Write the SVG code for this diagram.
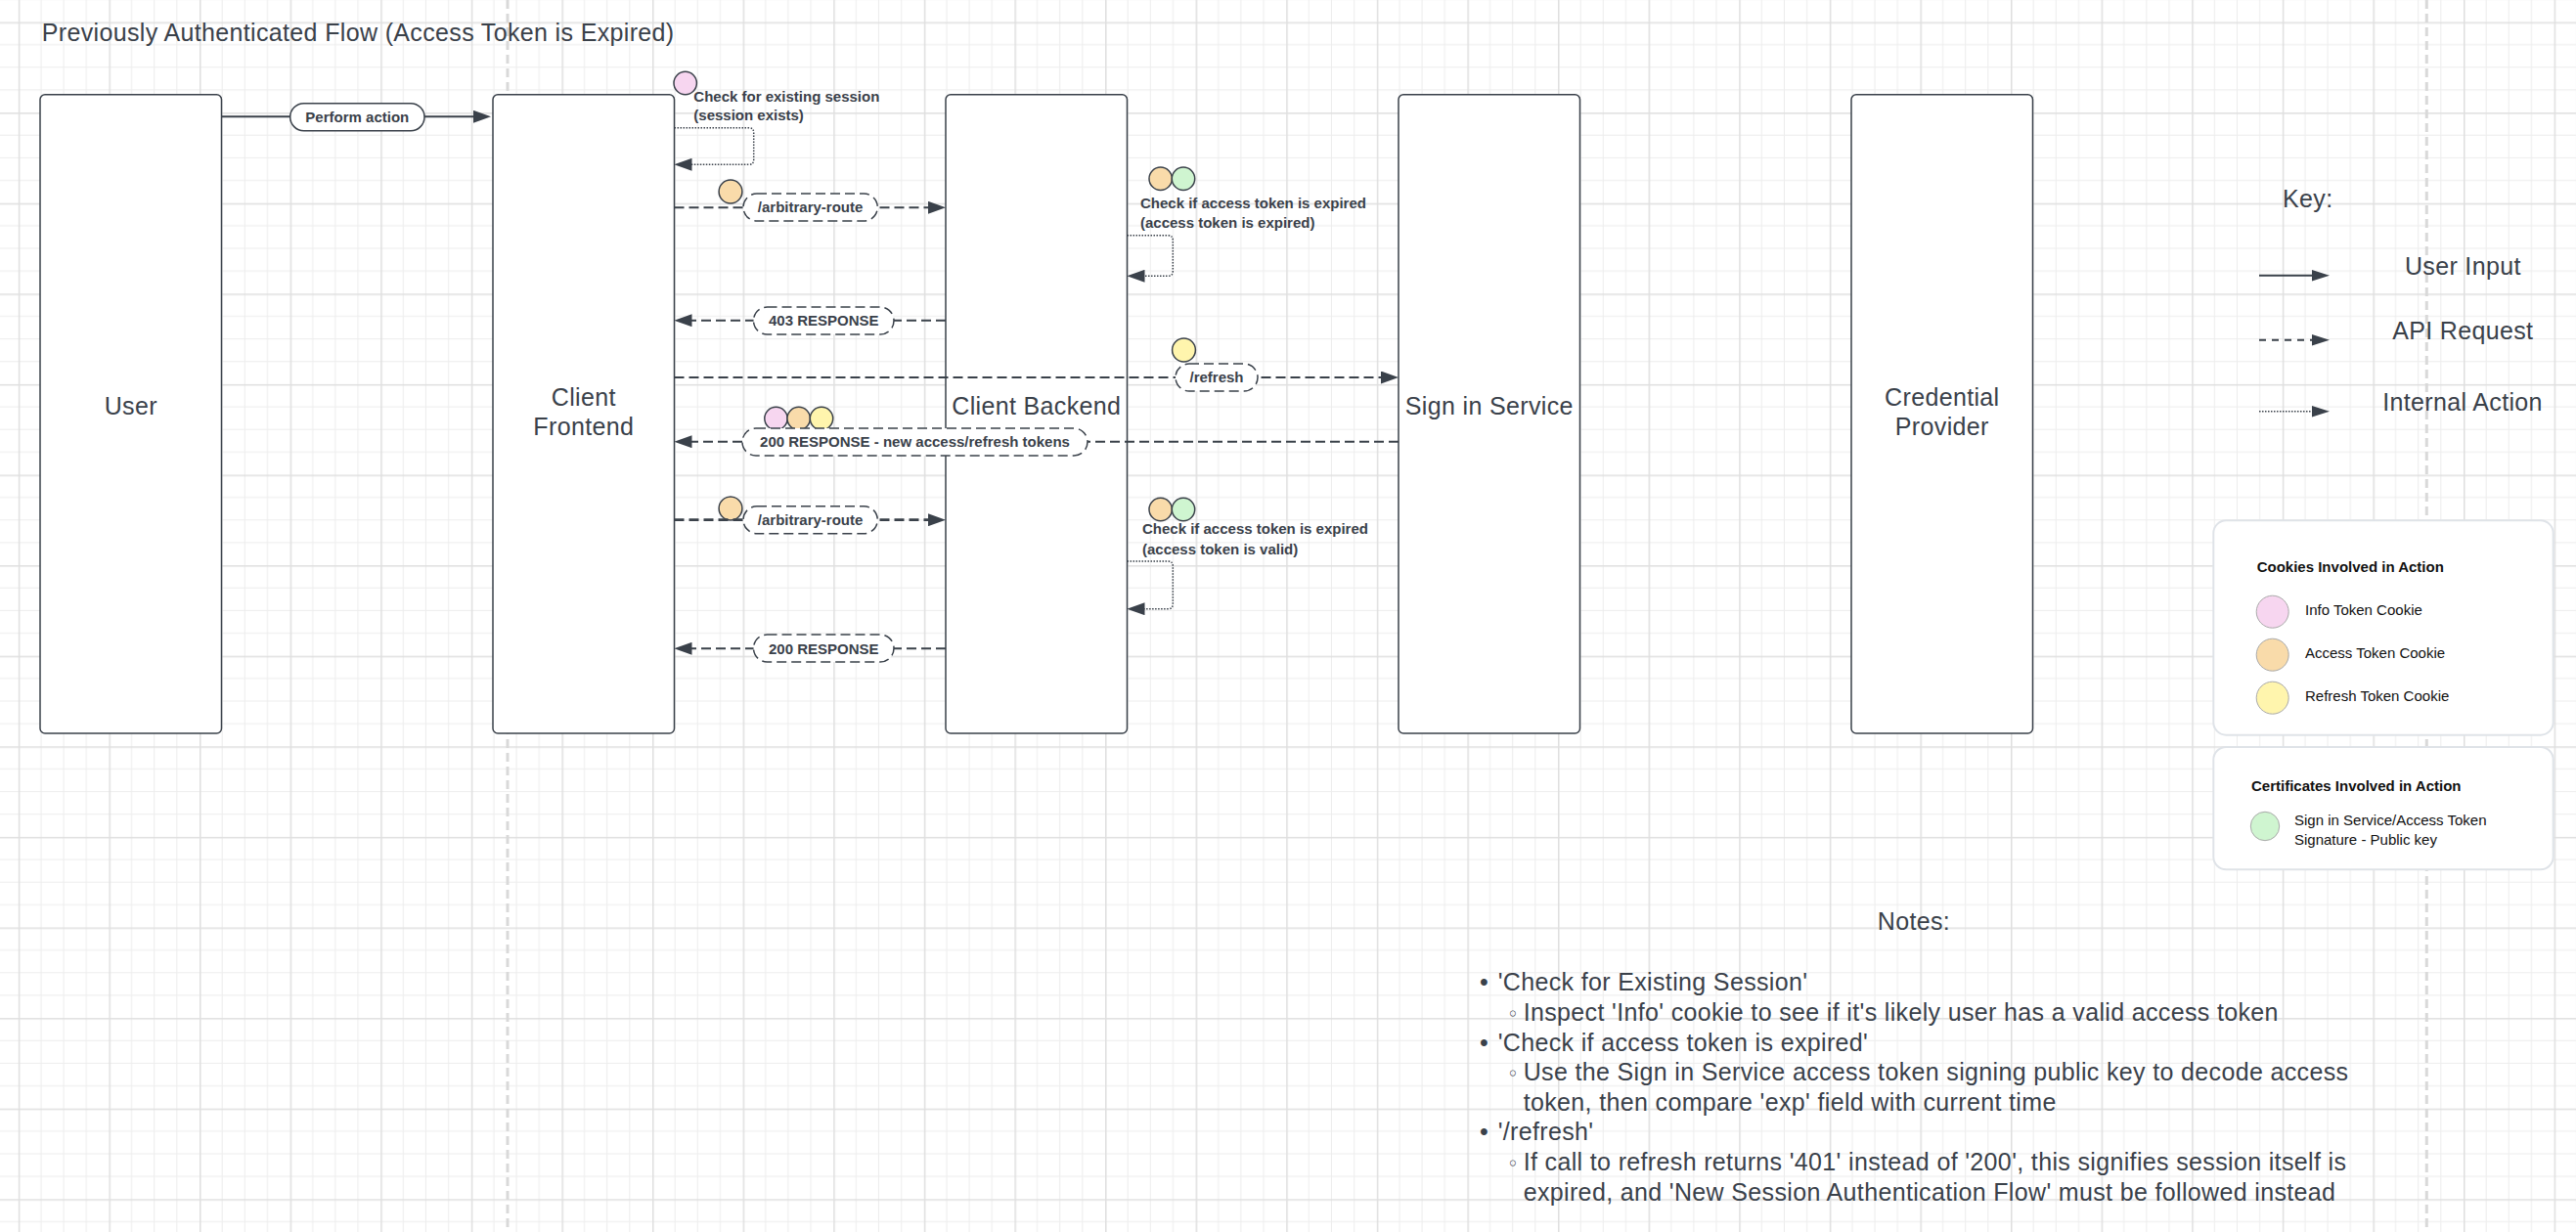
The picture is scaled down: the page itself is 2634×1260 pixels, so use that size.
<svg xmlns="http://www.w3.org/2000/svg" width="2634" height="1260" viewBox="0 0 2634 1260">
<defs>
<pattern id="grid" patternUnits="userSpaceOnUse" x="18.8" y="22.5" width="92.6" height="92.6">
<rect width="92.6" height="92.6" fill="#ffffff"/>
<path d="M23.15,0V92.6M46.3,0V92.6M69.45,0V92.6M0,23.15H92.6M0,46.3H92.6M0,69.45H92.6" stroke="#ededed" stroke-width="1"/>
<path d="M0.75,0V92.6M0,0.75H92.6" stroke="#dfdfdf" stroke-width="1.5"/>
</pattern>
<marker id="ah" markerUnits="userSpaceOnUse" markerWidth="18" markerHeight="13" refX="10" refY="6.5" orient="auto">
<path d="M0,0L18,6.5L0,13z" fill="#3a414a"/>
</marker>
<marker id="ahk" markerUnits="userSpaceOnUse" markerWidth="18" markerHeight="12" refX="10" refY="6" orient="auto">
<path d="M0,0.3L18,6L0,11.7z" fill="#3a414a"/>
</marker>
</defs>
<style>
.box{fill:#ffffff;stroke:#3a414a;stroke-width:1.5}
.big{font-family:'Liberation Sans',Arial,sans-serif;font-size:25px;letter-spacing:0.35px;fill:#3a414a}
.mid{text-anchor:middle}
.b15{font-family:'Liberation Sans',Arial,sans-serif;font-size:15px;font-weight:bold;fill:#3a414a}
.lg{font-family:'Liberation Sans',Arial,sans-serif;font-size:15px;fill:#111111}
.lgb{font-family:'Liberation Sans',Arial,sans-serif;font-size:15px;font-weight:bold;fill:#111111}
.sb{font-family:'DejaVu Sans',sans-serif;font-size:20px;fill:#3a414a}
.c{stroke:#3a414a;stroke-width:2;fill:none}
.dash{stroke-dasharray:10 5}
.dot{stroke-width:1.5;stroke-dasharray:1.5 1.5}
.pill{fill:#ffffff;stroke:#3a414a;stroke-width:1.5}
.pd{stroke-dasharray:10 5}
.ck{stroke:#3a414a;stroke-width:1.5}
.pink{fill:#f7d6f0}
.orange{fill:#f9dbaa}
.yellow{fill:#fff5ad}
.green{fill:#cff5d0}
.lgc{stroke:#a9a9a9;stroke-width:1}
.legbox{fill:#ffffff;stroke:#dfe3e8;stroke-width:2}
</style>

<rect x="0" y="0" width="2634" height="1260" fill="url(#grid)"/>
<g id="page-breaks" stroke="#d9d9d9" stroke-width="3" stroke-dasharray="9 5">
<line x1="519" y1="0" x2="519" y2="1260"/>
<line x1="2481.3" y1="0" x2="2481.3" y2="1260"/>
</g>

<g id="title">
<text class="big" x="42.7" y="41.7">Previously Authenticated Flow (Access Token is Expired)</text>
</g>

<g id="user">
<rect class="box" x="41" y="96.7" width="185.5" height="653.3" rx="5"/>
<text class="big mid" x="133.8" y="424">User</text>
</g>
<g id="client-frontend">
<rect class="box" x="504" y="96.7" width="185.5" height="653.3" rx="5"/>
<text class="big mid" x="596.8" y="414.6">Client</text>
<text class="big mid" x="596.8" y="445">Frontend</text>
</g>
<g id="client-backend">
<rect class="box" x="967" y="96.7" width="185.5" height="653.3" rx="5"/>
<text class="big mid" x="1059.8" y="424">Client Backend</text>
</g>
<g id="sign-in-service">
<rect class="box" x="1430" y="96.7" width="185.5" height="653.3" rx="5"/>
<text class="big mid" x="1522.8" y="424">Sign in Service</text>
</g>
<g id="credential-provider">
<rect class="box" x="1893" y="96.7" width="185.5" height="653.3" rx="5"/>
<text class="big mid" x="1985.8" y="414.6">Credential</text>
<text class="big mid" x="1985.8" y="445">Provider</text>
</g>

<g id="connectors">
<!-- Perform action -->
<path class="c" d="M226.5,119.3H494" marker-end="url(#ah)"/>
<rect class="pill" x="296.7" y="105.7" width="137.3" height="28" rx="14"/>
<text class="b15 mid" x="365.3" y="124.5">Perform action</text>

<!-- Check for existing session -->
<circle class="ck pink" cx="700.7" cy="85" r="11.7"/>
<text class="b15" x="709.3" y="104.3">Check for existing session</text>
<text class="b15" x="709.3" y="123.3">(session exists)</text>
<path class="c dot" d="M689.5,130.7H765.7Q770.7,130.7 770.7,135.7V163.3Q770.7,168.3 765.7,168.3H697.5" marker-end="url(#ah)"/>

<!-- /arbitrary-route 1 -->
<circle class="ck orange" cx="747" cy="196" r="11.9"/>
<path class="c dash" d="M689.5,212.3H959" marker-end="url(#ah)"/>
<rect class="pill pd" x="760" y="198" width="137.3" height="28" rx="14"/>
<text class="b15 mid" x="828.6" y="217.4">/arbitrary-route</text>

<!-- Check if access token is expired (expired) -->
<circle class="ck orange" cx="1186.7" cy="182.7" r="11.7"/>
<circle class="ck green" cx="1210" cy="182.7" r="11.7"/>
<text class="b15" x="1166" y="213.3">Check if access token is expired</text>
<text class="b15" x="1166" y="233.3">(access token is expired)</text>
<path class="c dot" d="M1152.5,240.7H1194.3Q1199.3,240.7 1199.3,245.7V277.3Q1199.3,282.3 1194.3,282.3H1160.5" marker-end="url(#ah)"/>

<!-- 403 RESPONSE -->
<path class="c dash" d="M967,327.7H697.5" marker-end="url(#ah)"/>
<rect class="pill pd" x="770.5" y="314" width="143.5" height="28" rx="14"/>
<text class="b15 mid" x="842.3" y="333">403 RESPONSE</text>

<!-- /refresh -->
<circle class="ck yellow" cx="1210.5" cy="358" r="11.9"/>
<path class="c dash" d="M689.5,386H1422" marker-end="url(#ah)"/>
<rect class="pill pd" x="1202" y="372" width="84" height="28" rx="14"/>
<text class="b15 mid" x="1244" y="391.2">/refresh</text>

<!-- 200 RESPONSE - new access/refresh tokens -->
<circle class="ck pink" cx="793.5" cy="428" r="11.7"/>
<circle class="ck orange" cx="816.7" cy="428" r="11.7"/>
<circle class="ck yellow" cx="840" cy="428" r="11.7"/>
<path class="c dash" d="M1430,451.7H1112"/>
<path class="c dash" d="M759,451.7H697.5" marker-end="url(#ah)"/>
<rect class="pill pd" x="759" y="438" width="353" height="28" rx="14" fill="none"/>
<text class="b15 mid" x="935.5" y="457">200 RESPONSE - new access/refresh tokens</text>

<!-- /arbitrary-route 2 -->
<circle class="ck orange" cx="747" cy="520" r="11.9"/>
<path class="c dash" d="M689.5,531.7H959" marker-end="url(#ah)" style="stroke-width:2.8"/>
<rect class="pill pd" x="760" y="517.7" width="137.3" height="28" rx="14"/>
<text class="b15 mid" x="828.6" y="537">/arbitrary-route</text>

<!-- Check if access token is expired (valid) -->
<circle class="ck orange" cx="1186.7" cy="521" r="11.7"/>
<circle class="ck green" cx="1210" cy="521" r="11.7"/>
<text class="b15" x="1168" y="546">Check if access token is expired</text>
<text class="b15" x="1168" y="566.7">(access token is valid)</text>
<path class="c dot" d="M1152.5,574H1194.3Q1199.3,574 1199.3,579V617.7Q1199.3,622.7 1194.3,622.7H1160.5" marker-end="url(#ah)"/>

<!-- 200 RESPONSE -->
<path class="c dash" d="M967,663.3H697.5" marker-end="url(#ah)"/>
<rect class="pill pd" x="770.5" y="649" width="143.5" height="28" rx="14"/>
<text class="b15 mid" x="842.3" y="668.5">200 RESPONSE</text>
</g>

<g id="key">
<text class="big" x="2334" y="212.3">Key:</text>
<path class="c" d="M2310,281.7H2374" marker-end="url(#ahk)"/>
<text class="big mid" x="2518.3" y="281">User Input</text>
<path class="c" d="M2310,347.7H2374" style="stroke-dasharray:7 6" marker-end="url(#ahk)"/>
<text class="big mid" x="2518.3" y="346.7">API Request</text>
<path class="c dot" d="M2310,420.7H2374" marker-end="url(#ahk)"/>
<text class="big mid" x="2518" y="420">Internal Action</text>
</g>

<g id="legend-cookies">
<rect class="legbox" x="2263.3" y="532.3" width="347.4" height="219.4" rx="13"/>
<text class="lgb" x="2307.7" y="585">Cookies Involved in Action</text>
<circle class="lgc pink" cx="2323.7" cy="625.7" r="16.5"/>
<text class="lg" x="2357" y="628.7">Info Token Cookie</text>
<circle class="lgc orange" cx="2323.7" cy="669.7" r="16.5"/>
<text class="lg" x="2357" y="672.7">Access Token Cookie</text>
<circle class="lgc yellow" cx="2323.7" cy="713.7" r="16.5"/>
<text class="lg" x="2357" y="716.7">Refresh Token Cookie</text>
</g>

<g id="legend-certificates">
<rect class="legbox" x="2263.3" y="764" width="347.4" height="125.3" rx="13"/>
<text class="lgb" x="2302" y="809.3">Certificates Involved in Action</text>
<circle class="lgc green" cx="2316" cy="845" r="14.7"/>
<text class="lg" x="2346" y="843.7">Sign in Service/Access Token</text>
<text class="lg" x="2346" y="863.7">Signature - Public key</text>
</g>

<g id="notes">
<text class="big mid" x="1957" y="951">Notes:</text>
<text class="big" x="1513" y="1013.3">•</text>
<text class="big" x="1531.7" y="1013.3">'Check for Existing Session'</text>
<text class="sb" x="1541" y="1044">◦</text>
<text class="big" x="1557.7" y="1044">Inspect 'Info' cookie to see if it's likely user has a valid access token</text>
<text class="big" x="1513" y="1074.7">•</text>
<text class="big" x="1531.7" y="1074.7">'Check if access token is expired'</text>
<text class="sb" x="1541" y="1105.3">◦</text>
<text class="big" x="1557.7" y="1105.3">Use the Sign in Service access token signing public key to decode access</text>
<text class="big" x="1557.7" y="1136">token, then compare 'exp' field with current time</text>
<text class="big" x="1513" y="1166.3">•</text>
<text class="big" x="1531.7" y="1166.3">'/refresh'</text>
<text class="sb" x="1541" y="1197">◦</text>
<text class="big" x="1557.7" y="1197">If call to refresh returns '401' instead of '200', this signifies session itself is</text>
<text class="big" x="1557.7" y="1228">expired, and 'New Session Authentication Flow' must be followed instead</text>
</g>
</svg>
